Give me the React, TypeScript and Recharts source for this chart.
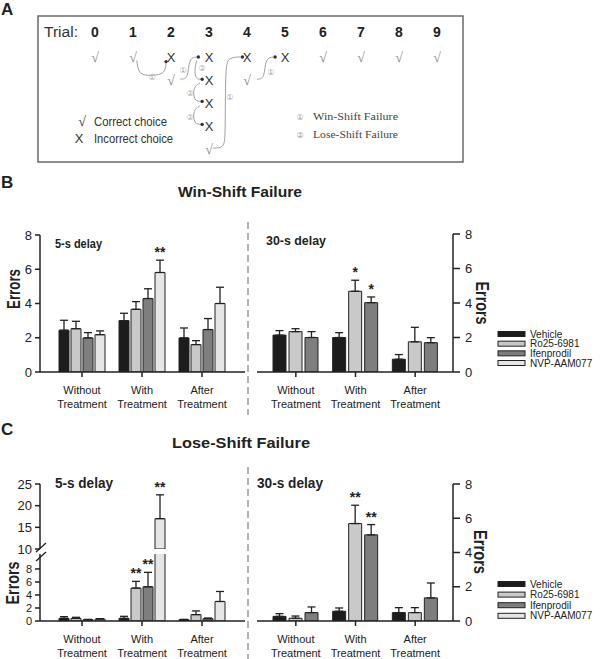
import React from 'react';
import { BarChart, Bar, XAxis, YAxis, ErrorBar, LabelList, ComposedChart, Scatter, Line } from 'recharts';

const FONT = '"Liberation Sans", Arial, Helvetica, sans-serif';
const SERIF = '"Liberation Serif", "DejaVu Serif", "Times New Roman", serif';
const CIRC = '"DejaVu Sans", "Noto Sans CJK SC", sans-serif';
const INK = '#222';

// ---------- Panel A (trial diagram) ----------
const trialNumbers = [0, 1, 2, 3, 4, 5, 6, 7, 8, 9];
const choiceTrial = [0, 1, 2, 3, 4, 5, 6, 7, 8, 9, 2, 3, 4, 3, 3, 3];
const choiceRow = [0, 0, 0, 0, 0, 0, 0, 0, 0, 0, 1, 1, 1, 2, 3, 4];
const choiceCorrect = [1, 1, 0, 0, 0, 0, 1, 1, 1, 1, 1, 0, 1, 0, 0, 1];

const arrowPaths: number[][][] = [
  [[1.1, 0.15], [1.15, 0.8], [1.5, 0.8], [1.85, 0.75], [1.87, 0.2]],
  [[2.24, 0.96], [2.46, 0.96], [2.46, 0.02], [2.72, 0.0]],
  [[2.68, 0.15], [2.62, 0.5], [2.64, 0.97], [2.82, 0.97]],
  [[2.76, 1.13], [2.58, 1.3], [2.6, 1.93], [2.82, 1.93]],
  [[2.76, 2.13], [2.58, 2.3], [2.6, 2.93], [2.82, 2.93]],
  [[3.1, 3.96], [3.4, 3.96], [3.43, 3.4], [3.43, 0.5], [3.5, 0], [3.88, 0]],
  [[4.26, 0.96], [4.47, 0.96], [4.47, 0.02], [4.74, 0]],
];
const arrowLabelTrial = [1.5, 2.32, 2.82, 2.5, 2.5, 3.55, 4.63];
const arrowLabelRow = [0.87, 0.57, 0.48, 1.57, 2.61, 1.74, 0.65];
const arrowLabelText = ['①', '①', '②', '②', '②', '①', '①'];

// ---------- Panels B and C ----------
const categories = ['Without Treatment', 'With Treatment', 'After Treatment'];
const seriesNames = ['Vehicle', 'Ro25-6981', 'Ifenprodil', 'NVP-AAM077'];
const seriesFills = ['#1c1c1c', '#c9c9c9', '#7e7e7e', '#e6e6e6'];
const errorTicks8 = [0, 2, 4, 6, 8];
const errorTicksUpper = [10, 15, 20, 25];

// B: Win-shift failure, 5-s delay
const ws5Vehicle = [2.44, 3.0, 1.99];
const ws5VehicleSem = [0.58, 0.43, 0.58];
const ws5Ro = [2.53, 3.66, 1.6];
const ws5RoSem = [0.43, 0.45, 0.23];
const ws5Ifen = [1.99, 4.29, 2.48];
const ws5IfenSem = [0.31, 0.57, 0.64];
const ws5Nvp = [2.18, 5.81, 4.0];
const ws5NvpSem = [0.22, 0.72, 0.95];
const ws5NvpStars = ['', '**', ''];

// B: Win-shift failure, 30-s delay
const ws30Vehicle = [2.14, 2.0, 0.74];
const ws30VehicleSem = [0.26, 0.28, 0.27];
const ws30Ro = [2.34, 4.68, 1.75];
const ws30RoSem = [0.17, 0.64, 0.84];
const ws30Ifen = [2.0, 4.02, 1.7];
const ws30IfenSem = [0.34, 0.33, 0.29];
const ws30RoStars = ['', '*', ''];
const ws30IfenStars = ['', '*', ''];

// C: Lose-shift failure, 5-s delay
const ls5Vehicle = [0.41, 0.41, 0.2];
const ls5VehicleSem = [0.26, 0.31, 0.05];
const ls5Ro = [0.4, 5.06, 0.98];
const ls5RoSem = [0.17, 1.03, 0.57];
const ls5Ifen = [0.2, 5.26, 0.36];
const ls5IfenSem = [0.05, 2.22, 0.1];
const ls5Nvp = [0.3, 17.0, 3.0];
const ls5NvpSem = [0.06, 5.5, 1.54];
const ls5RoStars = ['', '**', ''];
const ls5IfenStars = ['', '**', ''];
const ls5NvpStars = ['', '**', ''];

// C: Lose-shift failure, 30-s delay
const ls30Vehicle = [0.27, 0.57, 0.49];
const ls30VehicleSem = [0.16, 0.19, 0.29];
const ls30Ro = [0.16, 5.69, 0.49];
const ls30RoSem = [0.13, 1.07, 0.29];
const ls30Ifen = [0.49, 5.03, 1.35];
const ls30IfenSem = [0.33, 0.6, 0.87];
const ls30RoStars = ['', '**', ''];
const ls30IfenStars = ['', '**', ''];

const noStars = ['', '', ''];
const LOWER_MAX = 10.3;
const UPPER_MIN = 10;

type Series = { mean: number[]; sem: number[]; star: string[] };

function rowsFor(series: Series[], mode: 'full' | 'lower' | 'upper') {
  return categories.map((cat, c) => {
    const r: any = { cat };
    series.forEach((s, i) => {
      const v = s.mean[c];
      const e = s.sem[c];
      const st = s.star[c];
      const lab = st ? `${st}|${e}|${v}` : '';
      if (mode === 'upper') {
        if (v > UPPER_MIN) {
          r['v' + i] = v;
          r['e' + i] = [0, e];
          r['l' + i] = lab;
        } else {
          r['v' + i] = null;
          r['e' + i] = null;
          r['l' + i] = '';
        }
      } else if (mode === 'lower' && v > LOWER_MAX) {
        r['v' + i] = v;
        r['e' + i] = [0, 0];
        r['l' + i] = '';
      } else {
        r['v' + i] = v;
        r['e' + i] = [0, e];
        r['l' + i] = lab;
      }
    });
    return r;
  });
}

const ws5Series: Series[] = [
  { mean: ws5Vehicle, sem: ws5VehicleSem, star: noStars },
  { mean: ws5Ro, sem: ws5RoSem, star: noStars },
  { mean: ws5Ifen, sem: ws5IfenSem, star: noStars },
  { mean: ws5Nvp, sem: ws5NvpSem, star: ws5NvpStars },
];
const ws30Series: Series[] = [
  { mean: ws30Vehicle, sem: ws30VehicleSem, star: noStars },
  { mean: ws30Ro, sem: ws30RoSem, star: ws30RoStars },
  { mean: ws30Ifen, sem: ws30IfenSem, star: ws30IfenStars },
];
const ls5Series: Series[] = [
  { mean: ls5Vehicle, sem: ls5VehicleSem, star: noStars },
  { mean: ls5Ro, sem: ls5RoSem, star: ls5RoStars },
  { mean: ls5Ifen, sem: ls5IfenSem, star: ls5IfenStars },
  { mean: ls5Nvp, sem: ls5NvpSem, star: ls5NvpStars },
];
const ls30Series: Series[] = [
  { mean: ls30Vehicle, sem: ls30VehicleSem, star: noStars },
  { mean: ls30Ro, sem: ls30RoSem, star: ls30RoStars },
  { mean: ls30Ifen, sem: ls30IfenSem, star: ls30IfenStars },
];

const starContent = (base: number) => (props: any) => {
  const s = props.value;
  if (!s) return null;
  const [star, eStr, vStr] = String(s).split('|');
  const vb = props.viewBox || {};
  const x = vb.x ?? props.x;
  const y = vb.y ?? props.y;
  const w = vb.width ?? props.width;
  const h = vb.height ?? props.height;
  const val = Number(vStr);
  const err = Number(eStr);
  const ppu = Math.abs(h) / (val - base);
  const top = Math.min(y, y + h) - err * ppu;
  return (
    <text x={x + w / 2} y={top - 3} textAnchor="middle" fontSize={14} fontWeight="bold" fill={INK} fontFamily={FONT}>
      {star}
    </text>
  );
};

const CatTick = (props: any) => {
  const { x, y, payload } = props;
  const parts = String(payload.value).split(' ');
  return (
    <g>
      <text x={x} y={y + 14.5} textAnchor="middle" fontSize={11} fill={INK} fontFamily={FONT}>{parts[0]}</text>
      <text x={x} y={y + 29} textAnchor="middle" fontSize={11} fill={INK} fontFamily={FONT}>{parts[1]}</text>
    </g>
  );
};

type PanelProps = {
  series: Series[];
  mode: 'full' | 'lower' | 'upper';
  left: number;
  top: number;
  width: number;
  height: number;
  margin: { top: number; right: number; bottom: number; left: number };
  domain: [number, number];
  ticks: number[];
  right?: boolean;
  padding: { left: number; right: number };
  barSize: number;
  barGap: number;
  hideX?: boolean;
  tickFont?: number;
};

function BarPanel(p: PanelProps) {
  const rows = rowsFor(p.series, p.mode);
  const base = p.domain[0] > 0 ? p.domain[0] : 0;
  return (
    <div style={{ position: 'absolute', left: p.left, top: p.top }}>
      <BarChart width={p.width} height={p.height} data={rows} margin={p.margin} barSize={p.barSize} barGap={p.barGap}>
        <XAxis
          dataKey="cat"
          hide={!!p.hideX}
          interval={0}
          tick={CatTick}
          tickSize={5}
          height={38}
          padding={p.padding}
          axisLine={{ stroke: INK, strokeWidth: 1.5 }}
          tickLine={{ stroke: INK, strokeWidth: 1.5 }}
        />
        <YAxis
          orientation={p.right ? 'right' : 'left'}
          width={40}
          type="number"
          domain={p.domain}
          ticks={p.ticks}
          interval={0}
          allowDataOverflow
          tickSize={p.right ? 7 : 5}
          tickMargin={p.right ? 5 : 3}
          tick={{ fontSize: p.tickFont ?? 13, fill: INK, fontFamily: FONT }}
          axisLine={{ stroke: INK, strokeWidth: 1.5 }}
          tickLine={{ stroke: INK, strokeWidth: 1.5 }}
        />
        {p.series.map((s, i) => (
          <Bar key={i} dataKey={'v' + i} name={seriesNames[i]} fill={seriesFills[i]} stroke={INK} strokeWidth={1} isAnimationActive={false}>
            <ErrorBar dataKey={'e' + i} width={4} stroke={INK} strokeWidth={1.3} direction="y" isAnimationActive={false} />
            <LabelList dataKey={'l' + i} content={starContent(base)} />
          </Bar>
        ))}
      </BarChart>
    </div>
  );
}

// ---------- Panel A chart ----------
const choiceData = choiceTrial.map((t, i) => ({ trial: t, row: choiceRow[i], ok: choiceCorrect[i] }));
const arrowLabelData = arrowLabelTrial.map((t, i) => ({ trial: t, row: arrowLabelRow[i], text: arrowLabelText[i] }));

const ChoiceShape = (p: any) => {
  if (p.payload.ok) {
    return (
      <text x={p.cx} y={p.cy + 5} textAnchor="middle" fontSize={14} fill="#8a8a8a" fontFamily={SERIF}>√</text>
    );
  }
  return (
    <text x={p.cx} y={p.cy + 4.5} textAnchor="middle" fontSize={13} fill="#333" fontFamily={FONT}>X</text>
  );
};

const LabelShape = (p: any) => (
  <text x={p.cx} y={p.cy + 3} textAnchor="middle" fontSize={8} fill="#a8a8a8" fontFamily={CIRC}>{p.payload.text}</text>
);

const TrialTick = (props: any) => {
  const { x, y, payload } = props;
  return (
    <text x={x} y={y} textAnchor="middle" fontSize={14} fontWeight="bold" fill="#222" fontFamily={FONT}>{payload.value}</text>
  );
};

function PanelA() {
  return (
    <div style={{ position: 'absolute', left: 0, top: 0 }}>
      <ComposedChart width={470} height={165} margin={{ top: 32, right: 33, bottom: 16, left: 95 }}>
        <XAxis
          type="number"
          dataKey="trial"
          domain={[0, 9]}
          ticks={trialNumbers}
          interval={0}
          orientation="top"
          axisLine={false}
          tickLine={false}
          tickSize={0}
          tickMargin={20}
          height={25}
          tick={TrialTick}
        />
        <YAxis type="number" dataKey="row" domain={[0, 4]} reversed hide />
        {arrowPaths.map((path, k) => {
          const pts = path.map(([t, r]) => ({ trial: t, row: r }));
          const last = pts.length - 1;
          return (
            <Line
              key={'a' + k}
              data={pts}
              dataKey="row"
              type="basis"
              stroke="#a0a0a0"
              strokeWidth={1}
              isAnimationActive={false}
              activeDot={false}
              dot={(d: any) =>
                d.index === last ? (
                  <circle key={'d' + k + '-' + d.index} cx={d.cx} cy={d.cy} r={1.7} fill="#333" />
                ) : (
                  <g key={'d' + k + '-' + d.index} />
                )
              }
            />
          );
        })}
        <Scatter data={choiceData} shape={ChoiceShape} isAnimationActive={false} />
        <Scatter data={arrowLabelData} shape={LabelShape} isAnimationActive={false} />
      </ComposedChart>
    </div>
  );
}

// ---------- Overlay texts ----------
function Legend4({ x, y0, step }: { x: number; y0: number; step: number }) {
  return (
    <g>
      {seriesNames.map((n, i) => {
        const cy = y0 + i * step;
        return (
          <g key={n}>
            <rect x={x} y={cy - 2.5} width={27} height={5} fill={seriesFills[i]} stroke={INK} strokeWidth={1} />
            <text x={x + 32} y={cy + 3.5} fontSize={10} fill={INK} fontFamily={FONT}>{n}</text>
          </g>
        );
      })}
    </g>
  );
}

function Overlay() {
  const bold = { fontFamily: FONT, fontWeight: 'bold' as const, fill: INK };
  return (
    <svg width={600} height={659} style={{ position: 'absolute', left: 0, top: 0, pointerEvents: 'none' }}>
      {/* panel letters */}
      <text x={1} y={15} fontSize={17} {...bold}>A</text>
      <text x={1} y={188} fontSize={17} {...bold}>B</text>
      <text x={1} y={435} fontSize={17} {...bold}>C</text>

      {/* panel A frame and texts */}
      <rect x={38} y={16} width={425} height={146} fill="none" stroke="#6a6a6a" strokeWidth={1.5} />
      <text x={44} y={36.5} fontSize={14} fill="#333" fontFamily={FONT} textLength={34} lengthAdjust="spacingAndGlyphs">Trial:</text>
      <text x={82} y={126} fontSize={14} fill="#333" textAnchor="middle" fontFamily={SERIF}>√</text>
      <text x={79} y={142.5} fontSize={13} fill="#333" textAnchor="middle" fontFamily={FONT}>X</text>
      <text x={94} y={126} fontSize={12} fill="#333" fontFamily={FONT} textLength={73} lengthAdjust="spacingAndGlyphs">Correct choice</text>
      <text x={94} y={142.5} fontSize={12} fill="#333" fontFamily={FONT} textLength={79} lengthAdjust="spacingAndGlyphs">Incorrect choice</text>
      <text x={300} y={120} fontSize={8} fill="#999" textAnchor="middle" fontFamily={CIRC}>①</text>
      <text x={300} y={138} fontSize={8} fill="#999" textAnchor="middle" fontFamily={CIRC}>②</text>
      <text x={313} y={120} fontSize={11} fill="#444" fontFamily={SERIF} textLength={85} lengthAdjust="spacingAndGlyphs">Win-Shift  Failure</text>
      <text x={313} y={138} fontSize={11} fill="#444" fontFamily={SERIF} textLength={85} lengthAdjust="spacingAndGlyphs">Lose-Shift  Failure</text>

      {/* titles */}
      <text x={240} y={197} fontSize={15} textAnchor="middle" textLength={124} lengthAdjust="spacingAndGlyphs" {...bold}>Win-Shift Failure</text>
      <text x={241} y={448} fontSize={15} textAnchor="middle" textLength={138} lengthAdjust="spacingAndGlyphs" {...bold}>Lose-Shift Failure</text>

      {/* delay labels */}
      <text x={55} y={248} fontSize={13} textLength={47} lengthAdjust="spacingAndGlyphs" {...bold}>5-s delay</text>
      <text x={266} y={245} fontSize={13} textLength={60} lengthAdjust="spacingAndGlyphs" {...bold}>30-s delay</text>
      <text x={55} y={488} fontSize={14} textLength={58} lengthAdjust="spacingAndGlyphs" {...bold}>5-s delay</text>
      <text x={257} y={488} fontSize={14} textLength={66} lengthAdjust="spacingAndGlyphs" {...bold}>30-s delay</text>

      {/* Errors axis titles */}
      <text x={14} y={289} transform="rotate(-90 14 289)" dy={6} fontSize={18} textAnchor="middle" textLength={40} lengthAdjust="spacingAndGlyphs" {...bold}>Errors</text>
      <text x={482} y={303} transform="rotate(90 482 303)" dy={6} fontSize={18} textAnchor="middle" textLength={43} lengthAdjust="spacingAndGlyphs" {...bold}>Errors</text>
      <text x={13} y={583} transform="rotate(-90 13 583)" dy={6} fontSize={18} textAnchor="middle" textLength={43} lengthAdjust="spacingAndGlyphs" {...bold}>Errors</text>
      <text x={480} y={552} transform="rotate(90 480 552)" dy={6} fontSize={18} textAnchor="middle" textLength={44} lengthAdjust="spacingAndGlyphs" {...bold}>Errors</text>

      {/* dashed separators */}
      <line x1={248} y1={222} x2={248} y2={415} stroke="#9a9a9a" strokeWidth={1.5} strokeDasharray="7 4" />
      <line x1={248} y1={467} x2={248} y2={659} stroke="#9a9a9a" strokeWidth={1.5} strokeDasharray="7 4" />

      {/* axis break marks */}
      <rect x={37} y={550} width={7} height={4} fill="#fff" />
      <line x1={36} y1={552} x2={46} y2={543} stroke={INK} strokeWidth={1.3} />
      <line x1={36} y1={561} x2={46} y2={552} stroke={INK} strokeWidth={1.3} />

      {/* legends */}
      <Legend4 x={498} y0={334} step={9.67} />
      <Legend4 x={498} y0={584} step={10.6} />
    </svg>
  );
}

export default function App() {
  return (
    <div style={{ position: 'absolute', left: 0, top: 0, width: 600, height: 659, overflow: 'hidden', background: '#fff', fontFamily: FONT }}>
      <PanelA />
      <BarPanel
        series={ws5Series} mode="full" left={0} top={225} width={250} height={185}
        margin={{ top: 10, right: 5, bottom: 0, left: 0 }} domain={[0, 8]} ticks={errorTicks8}
        padding={{ left: 12, right: 13 }} barSize={10} barGap={2}
      />
      <BarPanel
        series={ws30Series} mode="full" left={250} top={225} width={243} height={185}
        margin={{ top: 9, right: 0, bottom: 0, left: 7 }} domain={[0, 8]} ticks={errorTicks8} right
        padding={{ left: 9, right: 8 }} barSize={13} barGap={3}
      />
      <BarPanel
        series={ls5Series} mode="upper" left={0} top={474} width={250} height={82}
        margin={{ top: 10, right: 5, bottom: 7, left: 0 }} domain={[UPPER_MIN, 25]} ticks={errorTicksUpper}
        padding={{ left: 12, right: 13 }} barSize={10} barGap={2} hideX
      />
      <BarPanel
        series={ls5Series} mode="lower" left={0} top={544} width={250} height={115}
        margin={{ top: 10, right: 5, bottom: 0, left: 0 }} domain={[0, LOWER_MAX]} ticks={errorTicks8}
        padding={{ left: 12, right: 13 }} barSize={10} barGap={2} tickFont={11}
      />
      <BarPanel
        series={ls30Series} mode="full" left={250} top={474} width={243} height={185}
        margin={{ top: 10, right: 0, bottom: 0, left: 7 }} domain={[0, 8]} ticks={errorTicks8} right
        padding={{ left: 9, right: 8 }} barSize={13} barGap={3}
      />
      <Overlay />
    </div>
  );
}
